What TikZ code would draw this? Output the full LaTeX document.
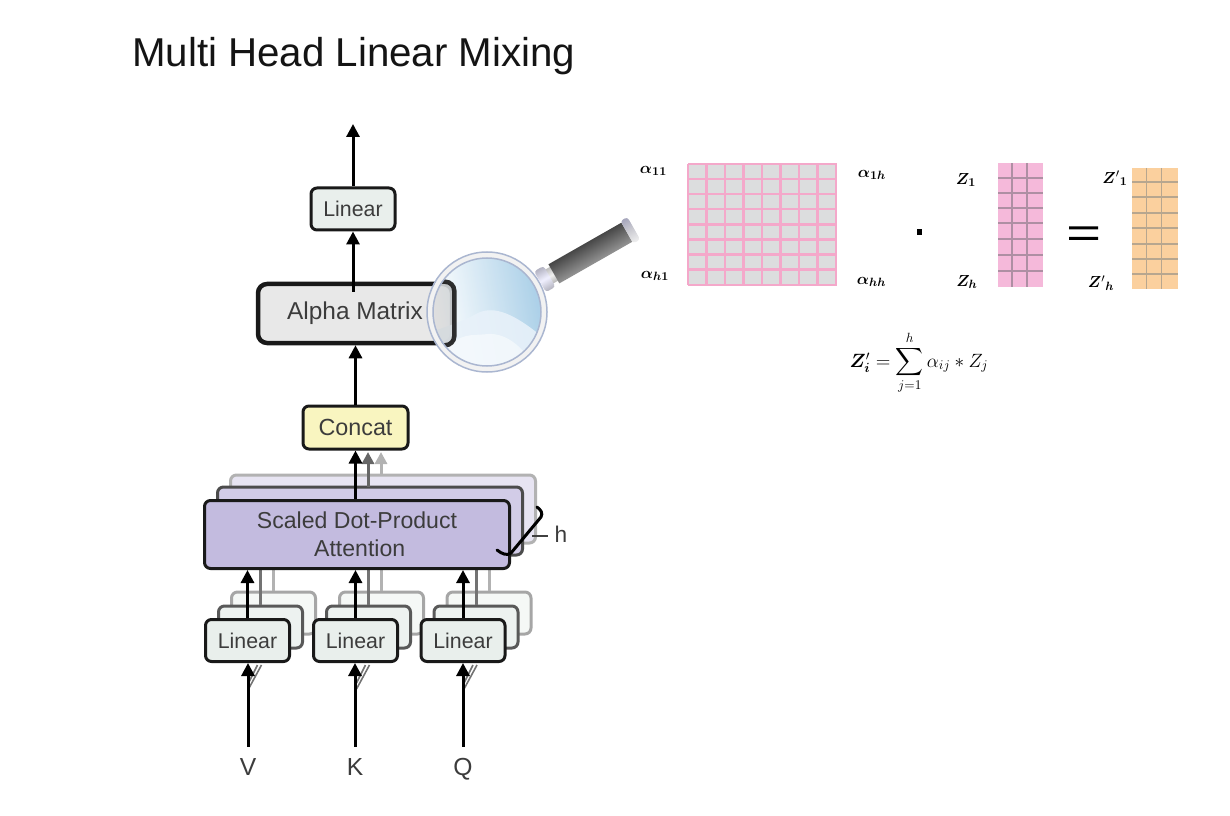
\documentclass[tikz,border=0pt]{standalone}
\usepackage{amsmath,amssymb,bm}
\usepackage[no-math]{fontspec}
\setmainfont{Liberation Sans}
\usetikzlibrary{arrows.meta,calc,shadings}
\def\px{0.75pt}
\definecolor{txt}{HTML}{3C3C3C}
\definecolor{linfill}{HTML}{E9EFEC}
\definecolor{attfill}{HTML}{C3BBDF}
\definecolor{yel}{HTML}{F9F5C0}
\definecolor{pinkline}{HTML}{F4A8CA}
\definecolor{matgray}{HTML}{DCDDDE}
\definecolor{zpink}{HTML}{F5B9DA}
\definecolor{zline}{HTML}{AE8FA3}
\definecolor{orfill}{HTML}{FBD09E}
\definecolor{orline}{HTML}{B7A68F}
\tikzset{
  boxbase/.style={rounded corners=6*\px,line width=3*\px,draw=black!90,text=txt,align=center,inner sep=0pt},
  linbox/.style={boxbase,fill=linfill,minimum width=84*\px,minimum height=42*\px,font=\fontsize{16}{18}\selectfont},
  linghostA/.style={rounded corners=6*\px,line width=3*\px,draw=black!65,fill=linfill!80!white,minimum width=84*\px,minimum height=42*\px,inner sep=0pt},
  linghostB/.style={rounded corners=6*\px,line width=3*\px,draw=black!35,fill=linfill!45!white,minimum width=84*\px,minimum height=42*\px,inner sep=0pt},
  attbox/.style={boxbase,fill=attfill,minimum width=305*\px,minimum height=68*\px,font=\fontsize{17.3}{21}\selectfont},
  attghostA/.style={rounded corners=6*\px,line width=3*\px,draw=black!70,fill=attfill!75!white,minimum width=305*\px,minimum height=68*\px,inner sep=0pt},
  attghostB/.style={rounded corners=6*\px,line width=3*\px,draw=black!30,fill=attfill!40!white,minimum width=305*\px,minimum height=68*\px,inner sep=0pt},
  arr/.style={line width=3*\px,black,-{Triangle[width=13*\px,length=13*\px]}},
  arrA/.style={line width=3*\px,black!60,-{Triangle[width=12*\px,length=12*\px]}},
  arrB/.style={line width=3*\px,black!30,-{Triangle[width=12*\px,length=12*\px]}},
  ghostline/.style={line width=3*\px,black!55},
  ghostlineB/.style={line width=3*\px,black!30},
  inlabel/.style={text=txt,font=\fontsize{18.5}{20}\selectfont,minimum height=40*\px,inner sep=0pt,text height=13pt,text depth=0pt},
  mlabel/.style={inner sep=0pt,font=\fontsize{13}{15}\selectfont},
  stub/.style={line width=1.6*\px,black!55}
}
\begin{document}
\begin{tikzpicture}[x=0.75pt,y=-0.75pt]
\useasboundingbox (0,0) rectangle (1230,816);
% title
\node[anchor=base west,inner sep=0pt,text=black!92,font=\fontsize{30.2}{33}\selectfont] (title) at (132,67) {Multi Head Linear Mixing};
% attention layers
\node[attghostB] (attC) at (383,509) {};
\node[attghostA] (attB) at (370,521) {};
% linear layers
\foreach \n/\cx in {V/247.5,K/355.5,Q/463}{
  \node[linghostB] (lin\n C) at (\cx+26,613) {};
  \node[linghostA] (lin\n B) at (\cx+13,627) {};
}
% ghost lines between linear and attention
\foreach \n/\cx in {V/247.5,K/355.5,Q/463}{
  \draw[ghostlineB] (lin\n C.north) -- ++(0,-23);
  \draw[ghostline] (lin\n B.north) -- ++(0,-37);
}
% ghost arrows to concat
\node[boxbase,fill=yel,minimum width=105*\px,minimum height=43*\px,font=\fontsize{17.5}{20}\selectfont] (concat) at (355.5,427.5) {Concat};
\draw[arrB] (381,474) -- (381,452);
\draw[arrA] (368,487) -- (368,452);
% front boxes
\node[attbox] (att) at (357,534.5) {Scaled Dot-Product\\\hspace*{4pt}Attention};
\foreach \n/\cx in {V/247.5,K/355.5,Q/463}{
  \node[linbox] (lin\n) at (\cx,640.5) {Linear};
}
% input labels
\node[inlabel] (V) at (248,767) {V};
\node[inlabel] (K) at (355,767) {K};
\node[inlabel] (Q) at (463,767) {Q};
% ghost stubs under linear
\foreach \n in {V,K,Q}{
  \draw[stub] ($(lin\n.south)+(1,26)$) -- ($(lin\n.south)+(14,2)$);
  \draw[stub] ($(lin\n.south)+(1,20)$) -- ($(lin\n.south)+(10,2)$);
  \draw[arr] (\n.north) -- (\n.north |- lin\n.south);
  \draw[arr] (lin\n.north) -- (lin\n.north |- att.south);
}
\draw[arr] (concat.south |- att.north) -- (concat.south);
% h bracket
\node[inlabel,minimum height=0pt,font=\fontsize{17}{20}\selectfont,text height=9pt] (hl) at (561,536) {h};
\draw[line width=3*\px,line cap=round,black] (497,550) .. controls (502,554) and (507,556) .. (511,553) -- (541,517) .. controls (543,513) and (541,510) .. (537,507);
\draw[line width=2*\px,black!75,shorten >=6*\px] (532,536) -- (hl.west);
% alpha matrix + linear
\node[boxbase,line width=4.5*\px,rounded corners=9*\px,fill=black!9,minimum width=194*\px,minimum height=59*\px,font=\fontsize{18.3}{22}\selectfont,text=txt] (alpha) at (355,313.5) {Alpha Matrix};
\node[linbox,fill=linfill] (lintop) at (353,209) {Linear};
\coordinate (out) at (353,124);
\draw[arr] (concat.north) -- (concat.north |- alpha.south);
\draw[arr] ($(lintop.south |- alpha.north)+(0,10)$) -- (lintop.south);
\draw[arr] (lintop.north) -- (out);
% magnifier
\begin{scope}
\clip (487,312) circle (54);
\shade[left color=white,right color={rgb,255:red,150;green,196;blue,226},shading angle=100,opacity=.8] (434,259) rectangle (541,365);
\fill[opacity=.88,color={rgb,255:red,232;green,242;blue,250}] (430,332) .. controls (450,326) and (465,320) .. (478,313) .. controls (495,305) and (515,315) .. (540,335) -- (540,370) -- (430,370) -- cycle;
\fill[white,opacity=.5] (445,350) .. controls (462,332) and (470,336) .. (488,334) .. controls (505,333) and (520,345) .. (530,360) -- (480,372) -- cycle;
% the box end seen through the glass
\draw[line width=4.5*\px,rounded corners=9*\px,black!90,fill=black!25,fill opacity=.45,draw opacity=.9] (alpha.south west) rectangle (alpha.north east);
\end{scope}
\draw[line width=5*\px,black!5!white] (487,312) circle (57);
\draw[line width=1.5*\px,color={rgb,255:red,170;green,182;blue,208}] (487,312) circle (60);
\draw[line width=1.5*\px,color={rgb,255:red,170;green,182;blue,208}] (487,312) circle (54);
\begin{scope}[transform canvas={shift={(487,312)},rotate=29.7}]
\shade[top color=black!25,bottom color=black!30,middle color=black!6] (70,-8) rectangle (78,8);
\shade[top color=blue!20!black!30,bottom color=blue!15!black!30,middle color=blue!6!white,rounded corners=3*\px] (61,-12) rectangle (72,12);
\shade[top color=black!72,bottom color=black!42] (77,-11) rectangle (161,11);
\shade[top color=blue!25!black!35,bottom color=black!6,middle color=blue!12!black!20,rounded corners=3*\px] (161,-13) rectangle (169,13);
\end{scope}
% alpha matrix grid
\fill[matgray] (688,164) rectangle (837,285);
\draw[pinkline,line width=2.4*\px] \foreach \i in {0,...,8}{ (688+\i*18.5,164) -- (688+\i*18.5,285) (688,164+\i*15.1) -- (837,164+\i*15.1) };
\node[mlabel] (a11) at (653.5,171) {$\boldsymbol{\alpha}_{\boldsymbol{11}}$};
\node[mlabel] (a1h) at (872,175) {$\boldsymbol{\alpha}_{\boldsymbol{1h}}$};
\node[mlabel] (ah1) at (655,276) {$\boldsymbol{\alpha}_{\boldsymbol{h1}}$};
\node[mlabel] (ahh) at (871.5,282) {$\boldsymbol{\alpha}_{\boldsymbol{hh}}$};
% dot
\fill[black] (917,229.5) rectangle (922,235);
% Z vector
\fill[zpink] (998,163) rectangle (1043,287);
\draw[zline,line width=1.4*\px] (1012,163) -- (1012,287) (1027,163) -- (1027,287);
\draw[zline,line width=1.4*\px] \foreach \yy in {178,193,208,223,239,255,271}{ (998,\yy) -- (1043,\yy) };
\node[mlabel] (z1) at (966,180) {$\boldsymbol{Z}_{\boldsymbol{1}}$};
\node[mlabel] (zh) at (967,282) {$\boldsymbol{Z}_{\boldsymbol{h}}$};
% equals
\fill[black] (1069,226.5) rectangle (1098,229.5) (1069,237) rectangle (1098,240);
% Z' vector
\fill[orfill] (1132,168) rectangle (1178,289);
\draw[orline,line width=1.4*\px] (1146.5,168) -- (1146.5,289) (1161.5,168) -- (1161.5,289);
\draw[orline,line width=1.4*\px] \foreach \yy in {182,197,213,228,244,259,274}{ (1132,\yy) -- (1178,\yy) };
\node[mlabel] (zp1) at (1115,178) {${\boldsymbol{Z}'}{}_{\boldsymbol{1}}$};
\node[mlabel] (zph) at (1101,283) {${\boldsymbol{Z}'}{}_{\boldsymbol{h}}$};
% equation
\node[inner sep=0pt,font=\fontsize{14.5}{16}\selectfont] (eq) at (919,363) {$\boldsymbol{Z}'_{\boldsymbol{i}}=\displaystyle\sum_{j=1}^{h}\alpha_{ij}*Z_j$};
\end{tikzpicture}
\end{document}
